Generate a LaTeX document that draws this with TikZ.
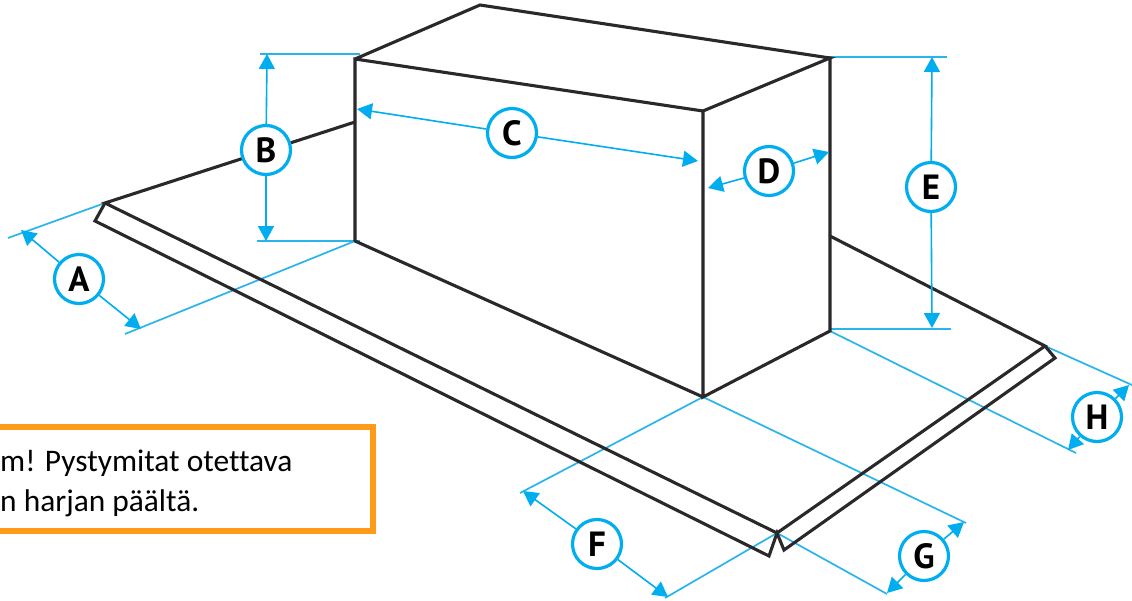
\documentclass[tikz,border=0pt]{standalone}
\usepackage{fontspec}
\setmainfont[Ligatures={NoCommon}]{Carlito}
\newfontfamily\letterfont{PT Sans}
\usetikzlibrary{arrows.meta}
\definecolor{dimblue}{HTML}{00AEEF}
\definecolor{extblue}{HTML}{29B4EA}
\definecolor{inkline}{HTML}{2A282A}
\definecolor{notebox}{HTML}{FF9A1A}
\tikzset{
  x=1pt,y=-1pt,
  solid edge/.style={draw=inkline,line width=3.1pt,line join=miter,line cap=round},
  ext/.style={draw=extblue,line width=1.7pt},
  dim/.style={draw=dimblue,line width=1.6pt,-{Triangle[length=15pt,width=16pt]}},
  badge/.style={circle,draw=dimblue,line width=3.2pt,fill=white,minimum size=49pt,inner sep=0pt,font=\letterfont\bfseries\fontsize{35}{35}\selectfont,text=black},
  notetext/.style={anchor=base west,inner sep=0pt,font=\fontsize{31.4}{31.4}\selectfont,text=black}
}
\begin{document}
\begin{tikzpicture}
\useasboundingbox (0,0) rectangle (1132,600);
\fill[white] (0,0) rectangle (1132,600);
% corners
\coordinate (ftl) at (355,59);
\coordinate (ftr) at (703,111);
\coordinate (btr) at (830,58);
\coordinate (btl) at (480,5);
\coordinate (fbl) at (355,241);
\coordinate (fbr) at (703,397);
\coordinate (bbr) at (830,331);
\coordinate (wl) at (355,122);
\coordinate (wr) at (830,236);
\coordinate (cl) at (105,203);
\coordinate (cl2) at (95,221);
\coordinate (cf) at (777,533);
\coordinate (cf1) at (769,556);
\coordinate (cf2) at (784,550);
\coordinate (cr) at (1045,346);
\coordinate (cr2) at (1055,358);
% extension lines
\coordinate (ea1) at (8,238);
\coordinate (ea2) at (125,334);
\coordinate (eb1) at (260,54);
\coordinate (eb1e) at (360,54);
\coordinate (eb2) at (257,241);
\coordinate (eb2e) at (360,241);
\coordinate (ee1) at (825,57);
\coordinate (ee1e) at (947,57);
\coordinate (ee2) at (830,329);
\coordinate (ee2e) at (951,329);
\coordinate (ef1) at (520,493);
\coordinate (ef2) at (665,598);
\coordinate (eg1) at (966,523);
\coordinate (eg2) at (887,594);
\coordinate (eh1) at (1132,385);
\coordinate (eh2) at (1076,453);
\draw[ext] (ea1) -- (cl);
\draw[ext] (ea2) -- (fbl);
\draw[ext] (eb1) -- (eb1e);
\draw[ext] (eb2) -- (eb2e);
\draw[ext] (ee1) -- (ee1e);
\draw[ext] (ee2) -- (ee2e);
\draw[ext] (ef1) -- (fbr);
\draw[ext] (ef2) -- (cf);
\draw[ext] (eg1) -- (fbr);
\draw[ext] (eg2) -- (cf);
\draw[ext] (eh1) -- (cr);
\draw[ext] (eh2) -- (bbr);
% black drawing
\draw[solid edge] (fbl) -- (ftl) -- (ftr) -- (btr) -- (btl) -- (ftl);
\draw[solid edge] (ftr) -- (fbr) -- (bbr) -- (btr);
\draw[solid edge] (fbl) -- (fbr);
\draw[solid edge] (wl) -- (cl) -- (cf) -- (cr) -- (wr);
\draw[solid edge] (cl) -- (cl2) -- (cf1) -- (cf) -- (cf2) -- (cr2) -- (cr);
% dimension tips
\coordinate (ta1) at (21,230);
\coordinate (ta2) at (141,329);
\coordinate (tb1) at (267,54);
\coordinate (tb2) at (266,241);
\coordinate (tc1) at (357,109);
\coordinate (tc2) at (698,161);
\coordinate (td1) at (829,152);
\coordinate (td2) at (708,188);
\coordinate (te1) at (932,57);
\coordinate (te2) at (932,328);
\coordinate (tf1) at (523,491);
\coordinate (tf2) at (668,597);
\coordinate (tg1) at (964,522);
\coordinate (tg2) at (887,593);
\coordinate (th1) at (1129,385);
\coordinate (th2) at (1068,450);
% badges
\node[badge] (A) at (79,279) {A};
\node[badge] (B) at (266,150) {B};
\node[badge] (C) at (512,133) {C};
\node[badge] (D) at (769,171) {D};
\node[badge] (E) at (931,187) {E};
\node[badge] (F) at (597,544) {F};
\node[badge] (G) at (924,556) {G};
\node[badge] (H) at (1097,417) {H};
\foreach \n/\p/\q in {A/ta1/ta2,B/tb1/tb2,C/tc1/tc2,D/td1/td2,E/te1/te2,F/tf1/tf2,G/tg1/tg2,H/th1/th2}{
  \draw[dim] (\n) -- (\p);
  \draw[dim] (\n) -- (\q);
}
% note
\coordinate (na) at (0,427);
\coordinate (nb) at (373,427);
\coordinate (nc) at (373,531);
\coordinate (nd) at (0,531);
\draw[draw=notebox,line width=6pt,line join=miter] (na) -- (nb) -- (nc) -- (nd);
\node[notetext] (l1) at (0,471) {m! Pystymitat otettava};
\node[notetext] (l2) at (0,511) {n harjan päältä.};
\end{tikzpicture}
\end{document}
